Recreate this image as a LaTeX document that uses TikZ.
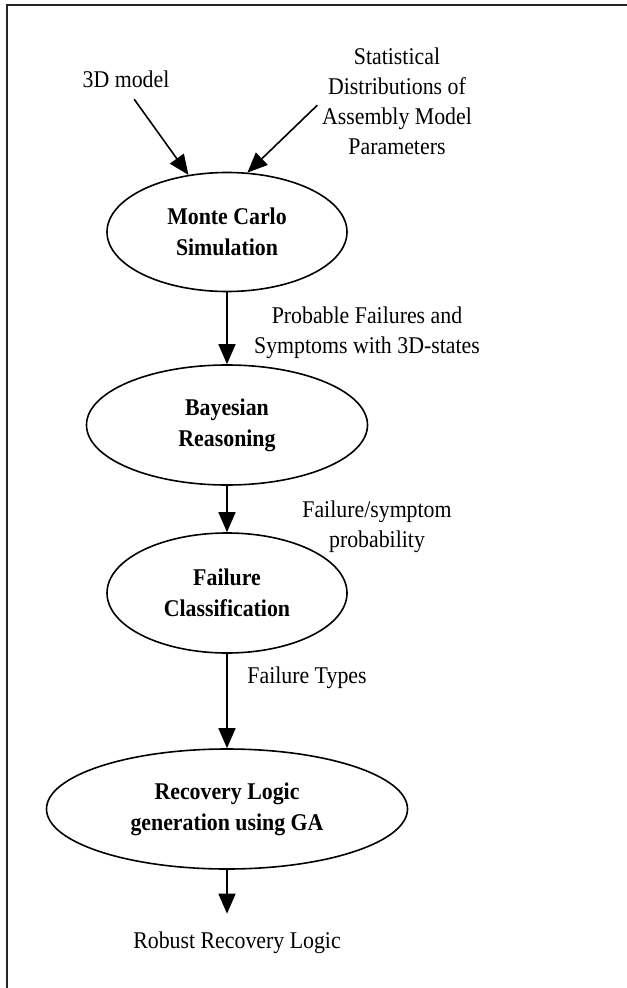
\documentclass[tikz,border=0pt]{standalone}
\usepackage{fontspec}
\setmainfont{Liberation Serif}[FakeStretch=0.91]
\usetikzlibrary{shapes.geometric,arrows.meta}

\begin{document}
\begin{tikzpicture}[x=0.5pt, y=-0.5pt,
    font=\fontsize{12}{15}\selectfont,
    proc/.style={ellipse, draw, line width=0.8pt, inner sep=0pt, align=center,
        font=\fontsize{12}{15.5}\selectfont\bfseries},
    lbl/.style={align=center, inner sep=0pt},
    flow/.style={-{Triangle[length=10pt, width=8.5pt]}, line width=0.8pt}]
    \useasboundingbox (0,0) rectangle (626,988);
    \draw[line width=1pt, black!85] (7,990) -- (7,5) -- (628,5);

    % inputs
    \node[lbl] (m3d) at (126,79) {3D model};
    \node[lbl] (stat) at (397,101) {Statistical\\Distributions of\\Assembly Model\\Parameters};

    % process steps
    \node[proc, minimum width=120pt, minimum height=59.5pt] (mc) at (227,232) {Monte Carlo\\Simulation};
    \node[proc, minimum width=140.5pt, minimum height=60pt] (bay) at (227,425) {Bayesian\\Reasoning};
    \node[proc, minimum width=120pt, minimum height=60pt] (fc) at (227,593) {Failure\\Classification};
    \node[proc, minimum width=180.5pt, minimum height=60pt] (rec) at (227,809) {Recovery Logic\\generation using GA};
    \node[lbl] (out) at (237,943) {Robust Recovery Logic};

    % edge labels
    \node[lbl] (l1) at (367,333) {Probable Failures and\\Symptoms with 3D-states};
    \node[lbl] (l2) at (377,527) {Failure/symptom\\probability};
    \node[lbl] (l3) at (307,678) {Failure Types};

    \draw[flow, shorten <=7pt] (m3d.south) -- (mc.124);
    \draw[flow, shorten <=3pt] (stat.west) -- (mc.71);
    \draw[flow] (mc) -- (bay);
    \draw[flow] (bay) -- (fc);
    \draw[flow] (fc) -- (rec);
    \draw[flow, shorten >=9pt] (rec) -- (rec |- out.north);
\end{tikzpicture}
\end{document}
